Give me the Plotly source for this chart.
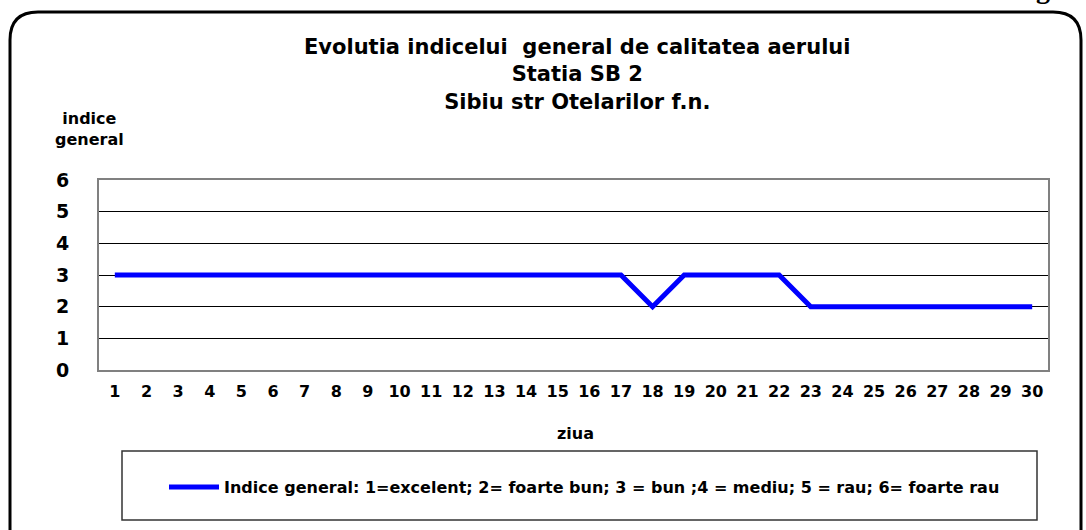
import plotly.graph_objects as go

days = [str(d) for d in range(1, 31)]
indice = [3, 3, 3, 3, 3, 3, 3, 3, 3, 3, 3, 3, 3, 3, 3, 3, 3, 2, 3, 3, 3, 3, 2, 2, 2, 2, 2, 2, 2, 2]
y_ticks = [0, 1, 2, 3, 4, 5, 6]
title_lines = ["Evolutia indicelui  general de calitatea aerului", "Statia SB 2", "Sibiu str Otelarilor f.n."]
legend_label = "Indice general: 1=excelent; 2= foarte bun; 3 = bun ;4 = mediu; 5 = rau; 6= foarte rau"

W, H = 1086, 530
L, R, T, B = 99, 1048, 180, 370
FONT = "DejaVu Sans, Arial, sans-serif"


def px(x):
    return (x - L) / (R - L)


def py(y):
    return (B - y) / (B - T)


fig = go.Figure()
fig.add_trace(go.Scatter(
    x=days, y=indice, mode="lines", name=legend_label,
    line=dict(color="#0000FF", width=5),
))

shapes = []
# outer rounded border
x0, y0, x1, y1, r = 10, 12, 1081, 600, 28
path = (f"M {px(x0)} {py(y0 + r)} Q {px(x0)} {py(y0)} {px(x0 + r)} {py(y0)} "
        f"L {px(x1 - r)} {py(y0)} Q {px(x1)} {py(y0)} {px(x1)} {py(y0 + r)} "
        f"L {px(x1)} {py(y1)} L {px(x0)} {py(y1)} Z")
shapes.append(dict(type="path", xref="paper", yref="paper", path=path,
                   line=dict(color="black", width=3), layer="below"))
# legend box
shapes.append(dict(type="rect", xref="paper", yref="paper",
                   x0=px(122), x1=px(1037), y0=py(451), y1=py(520),
                   line=dict(color="#333333", width=1.5), layer="below"))

annotations = []
annotations.append(dict(text="<br>".join(f"<b>{t}</b>" for t in title_lines),
                        x=px(577), y=py(74),
                        xref="paper", yref="paper", showarrow=False,
                        xanchor="center", yanchor="middle", align="center",
                        font=dict(family=FONT, size=21, color="black")))
annotations.append(dict(text="<b>indice<br>general</b>", x=px(89), y=py(129),
                        xref="paper", yref="paper", showarrow=False,
                        xanchor="center", yanchor="middle", align="center",
                        font=dict(family=FONT, size=16, color="black")))
annotations.append(dict(text="<b>ziua</b>", x=px(575), y=py(433),
                        xref="paper", yref="paper", showarrow=False,
                        xanchor="center", yanchor="middle",
                        font=dict(family=FONT, size=16, color="black")))
annotations.append(dict(text="<b>g.</b>", x=px(1046), y=py(-12),
                        xref="paper", yref="paper", showarrow=False,
                        xanchor="center", yanchor="middle",
                        font=dict(family="Liberation Serif, serif", size=28, color="black")))

fig.update_layout(
    width=W, height=H,
    margin=dict(l=L, r=W - R, t=T, b=H - B, pad=0),
    paper_bgcolor="white", plot_bgcolor="white",
    font=dict(family=FONT, color="black"),
    showlegend=True,
    legend=dict(x=px(164), y=py(487), xref="paper", yref="paper",
                xanchor="left", yanchor="middle", orientation="h",
                itemwidth=50,
                bgcolor="rgba(0,0,0,0)", borderwidth=0,
                font=dict(family=FONT, size=16, color="black", weight="bold")),
    xaxis=dict(type="category", range=[-0.5, 29.5], showgrid=False,
               showline=True, linecolor="#808080", linewidth=2, mirror=True,
               ticks="", ticklabelstandoff=6,
               tickfont=dict(family=FONT, size=16, weight="bold", color="black"),
               fixedrange=True),
    yaxis=dict(range=[0, 6], tickvals=y_ticks, showgrid=True, gridcolor="black", gridwidth=1,
               showline=True, linecolor="#808080", linewidth=2, mirror=True,
               zeroline=False, ticks="", ticklabelstandoff=24,
               tickfont=dict(family=FONT, size=19, weight="bold", color="black"),
               fixedrange=True),
    shapes=shapes, annotations=annotations,
)

fig.write_html("out.html", config={"displayModeBar": False},
               post_script="document.body.style.margin='0px';document.body.style.overflow='hidden';")
